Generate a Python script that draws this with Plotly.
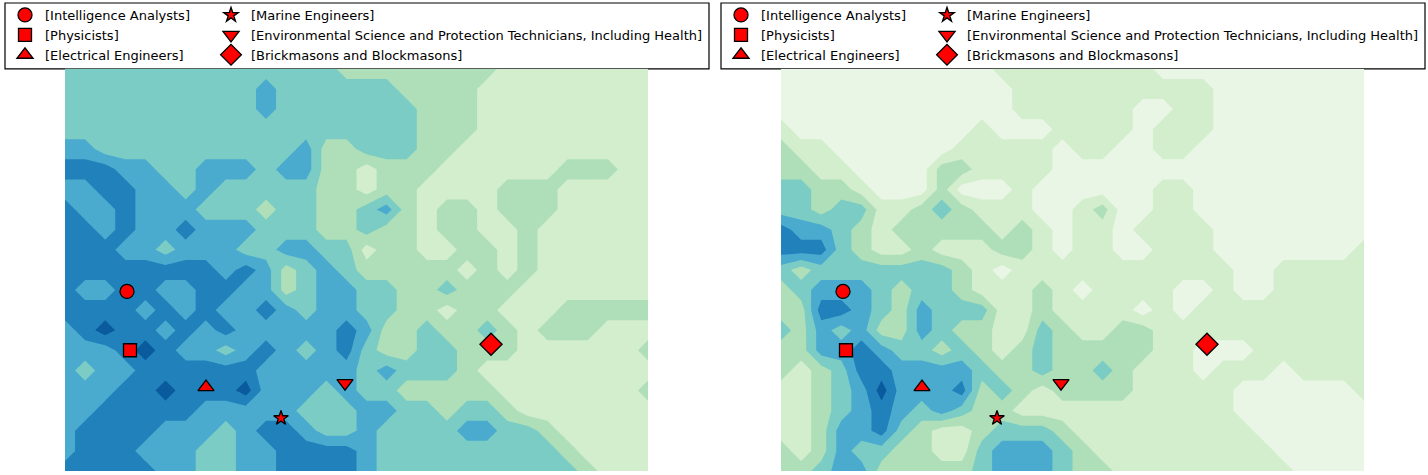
import numpy as np
import plotly.graph_objects as go

occupations = ["[Intelligence Analysts]", "[Physicists]", "[Electrical Engineers]",
               "[Marine Engineers]", "[Environmental Science and Protection Technicians, Including Health]",
               "[Brickmasons and Blockmasons]"]
symbols = ["circle", "square", "triangle-up", "star", "triangle-down", "diamond"]
marker_sizes = [14, 13, 14, 11, 14, 17]
marker_x = [62, 65, 141, 216, 280, 426]
marker_y = [180, 121, 84, 53, 88, 127]

level_colors = ["#e9f6e5", "#d3eecd", "#aedfb8", "#7bccc4", "#4aabcf", "#2181ba", "#0a5a9e"]

grid_x = np.linspace(0, 583, 30)
grid_y = np.linspace(403, 0, 21)

left_levels = [
[3,3,3,3,3,3,3,3,3,3,3,3,3,3,2,2,2,2,2,2,2,2,1,1,1,1,1,1,1,1],
[3,3,3,3,3,3,3,3,3,3,4,3,3,3,3,3,3,2,2,2,2,1,1,1,1,1,1,1,1,1],
[3,3,3,3,3,3,3,3,3,3,4,3,3,3,3,3,3,3,2,2,2,1,1,1,1,1,1,1,1,1],
[3,3,3,3,3,3,3,3,3,3,3,3,3,3,3,3,3,3,2,2,2,1,1,1,1,1,1,1,1,1],
[4,4,3,3,3,3,3,3,3,3,3,3,4,2,2,3,3,3,2,2,1,1,1,1,1,1,1,1,1,1],
[5,5,5,4,4,3,3,4,4,4,3,4,4,2,2,1,2,2,2,1,1,1,1,1,1,2,2,2,1,1],
[4,4,5,5,4,4,3,4,3,3,3,3,3,2,2,1,2,2,1,1,1,1,2,2,2,1,1,1,1,1],
[5,4,4,5,4,4,4,3,3,3,2,3,3,2,2,3,4,2,1,2,2,1,2,2,2,1,1,1,1,1],
[5,5,4,5,4,4,5,4,4,4,3,3,3,2,2,3,2,2,1,2,2,1,1,2,1,1,1,1,1,1],
[5,5,5,4,4,3,4,4,4,3,3,4,4,3,3,1,2,2,1,1,2,2,1,2,1,1,1,1,1,1],
[5,5,5,5,5,5,5,5,4,5,4,2,3,4,3,2,2,2,2,2,1,2,1,2,1,1,1,1,1,1],
[5,4,4,5,5,4,4,5,5,4,4,2,3,4,4,3,3,2,2,3,2,2,2,1,1,1,1,1,1,1],
[5,5,5,5,4,5,4,5,4,4,5,4,3,4,4,3,3,2,2,1,2,2,1,1,1,2,2,2,2,2],
[4,5,6,5,5,4,5,4,5,4,4,4,4,4,5,4,2,2,3,2,2,3,2,1,2,2,2,1,1,1],
[4,4,4,5,6,5,4,4,3,4,5,4,3,4,5,3,2,2,3,3,2,2,2,1,1,1,1,1,1,2],
[4,3,4,4,5,5,5,5,5,5,4,4,4,4,4,3,4,3,3,3,2,1,1,1,1,1,1,1,1,1],
[4,4,4,5,5,6,5,5,5,6,4,4,4,3,4,3,3,2,2,2,2,2,1,1,1,1,1,1,1,2],
[4,4,5,5,5,5,5,4,4,4,4,4,3,3,3,4,4,3,3,2,3,3,2,1,1,1,1,1,1,1],
[4,5,5,5,5,4,4,4,3,4,5,5,4,3,3,4,3,3,3,3,4,4,3,3,2,1,1,1,1,1],
[4,5,5,5,4,4,4,3,3,4,4,5,5,5,5,4,3,3,3,3,3,3,3,3,3,2,1,1,1,1],
[5,5,5,5,5,4,4,3,3,4,4,5,5,5,5,4,3,3,3,3,3,3,3,3,3,3,2,1,1,1],
]

right_levels = [
[0,0,0,0,0,0,0,0,0,0,0,1,1,1,1,1,1,1,1,0,0,0,0,0,0,0,0,0,0,0],
[0,0,0,0,0,0,0,0,0,0,0,0,1,1,1,1,1,1,1,1,1,1,0,0,0,0,0,0,0,0],
[0,0,0,0,0,0,0,0,0,0,0,0,1,1,1,1,1,1,0,0,1,1,0,0,0,0,0,0,0,0],
[1,0,0,0,0,0,0,0,0,0,1,0,0,0,1,1,1,1,0,1,1,1,0,0,0,0,0,0,0,0],
[2,1,1,0,0,0,0,0,0,1,1,1,1,1,0,1,1,0,0,1,1,0,0,0,0,0,0,0,0,0],
[2,2,1,1,0,0,0,0,2,2,1,1,1,1,0,0,0,0,0,0,0,0,0,0,0,0,0,0,0,0],
[3,3,2,2,1,0,0,0,2,0,0,0,1,0,0,0,0,0,0,1,1,0,0,0,0,0,0,0,0,0],
[3,3,2,3,3,1,1,2,3,2,1,1,1,0,0,1,2,0,0,1,1,0,0,0,0,0,0,0,0,0],
[5,4,4,3,2,1,2,2,2,2,2,1,2,1,0,1,1,0,1,1,1,1,0,0,0,0,0,0,0,0],
[5,5,5,3,2,1,1,2,1,1,1,2,2,1,0,1,1,0,0,1,1,1,0,0,0,0,0,0,0,1],
[3,2,3,3,3,3,3,3,3,2,1,0,1,1,1,1,1,1,1,1,1,1,1,0,0,1,1,1,1,1],
[2,3,4,4,4,3,2,3,3,2,1,1,1,2,1,0,1,1,1,1,0,0,1,0,0,1,1,1,1,1],
[2,2,5,5,4,3,2,4,3,3,3,1,1,2,1,1,1,1,0,1,0,1,1,1,1,1,1,1,1,1],
[3,2,4,3,4,2,2,4,3,2,2,1,1,3,2,1,1,2,2,1,1,1,1,1,1,1,1,1,1,1],
[2,2,4,4,5,4,3,3,2,3,2,1,2,3,2,2,2,2,2,1,1,0,0,0,1,1,1,1,1,1],
[2,1,2,3,5,5,4,4,4,4,3,2,2,3,2,2,3,2,1,1,1,0,1,1,1,0,1,1,1,1],
[1,1,2,3,4,6,4,4,4,5,2,3,2,1,2,2,2,2,1,1,1,1,1,0,0,0,0,0,0,1],
[1,1,2,3,4,5,4,3,4,3,2,2,1,1,1,1,1,1,1,1,1,1,1,0,0,0,0,0,0,0],
[1,1,2,4,4,5,3,2,1,1,2,3,3,3,2,1,1,1,1,1,1,1,1,1,0,0,0,0,0,0],
[2,1,2,4,3,3,2,2,1,1,3,4,4,4,3,2,1,1,1,1,1,1,1,1,1,0,0,0,0,0],
[2,2,3,4,4,2,2,2,2,2,3,4,4,4,3,2,2,1,1,1,1,1,1,1,1,1,0,0,0,0],
]

W, H = 1428, 475
n = len(level_colors)
colorscale = []
for k, c in enumerate(level_colors):
    colorscale += [[k / n, c], [(k + 1) / n, c]]

fig = go.Figure()
panels = [(left_levels, "x", "y", 65, "legend", "legend2"),
          (right_levels, "x2", "y2", 781, "legend3", "legend4")]

for levels, xa, ya, px0, lg_a, lg_b in panels:
    fig.add_trace(go.Contour(
        x=grid_x, y=grid_y, z=levels, xaxis=xa, yaxis=ya,
        colorscale=colorscale, zmin=-0.5, zmax=n - 0.5, zauto=False,
        autocontour=False, contours=dict(start=0.5, end=5.5, size=1, coloring="fill"),
        line=dict(width=0, smoothing=0), showscale=False, hoverinfo="skip", showlegend=False,
    ))
    for k, name in enumerate(occupations):
        fig.add_trace(go.Scatter(
            x=[marker_x[k]], y=[marker_y[k]], xaxis=xa, yaxis=ya, mode="markers", name=name,
            legend=lg_a if k < 3 else lg_b,
            marker=dict(symbol=symbols[k], size=marker_sizes[k], color="#ff0000",
                        line=dict(color="black", width=1.3)),
        ))
    fig.add_shape(type="rect", xref="paper", yref="paper",
                  x0=(px0 - 60) / W, x1=(px0 + 644) / W, y0=(H - 68) / H, y1=(H - 2) / H,
                  line=dict(color="black", width=1.2), fillcolor="white", layer="below")

def legend_cfg(px):
    return dict(x=px / W, xanchor="left", y=(H + 1) / H, yanchor="top", bgcolor="rgba(0,0,0,0)",
                borderwidth=0, font=dict(family="DejaVu Sans", size=13, color="black"),
                itemsizing="trace", itemclick=False, itemdoubleclick=False, tracegroupgap=0)

fig.update_layout(
    width=W, height=H, margin=dict(l=0, r=0, t=0, b=0), paper_bgcolor="white", plot_bgcolor="white",
    showlegend=True,
    legend=legend_cfg(5), legend2=legend_cfg(211),
    legend3=legend_cfg(721), legend4=legend_cfg(927),
)
axis = dict(visible=False, showgrid=False, zeroline=False)
fig.update_layout(
    xaxis=dict(axis, domain=[65 / W, 648 / W], range=[0, 583]),
    yaxis=dict(axis, domain=[(H - 471) / H, (H - 68) / H], range=[0, 403]),
    xaxis2=dict(axis, domain=[781 / W, 1364 / W], range=[0, 583]),
    yaxis2=dict(axis, domain=[(H - 471) / H, (H - 68) / H], range=[0, 403]),
)
fig.write_html("out.html", config=dict(displayModeBar=False),
               post_script="document.body.style.margin='0';")
